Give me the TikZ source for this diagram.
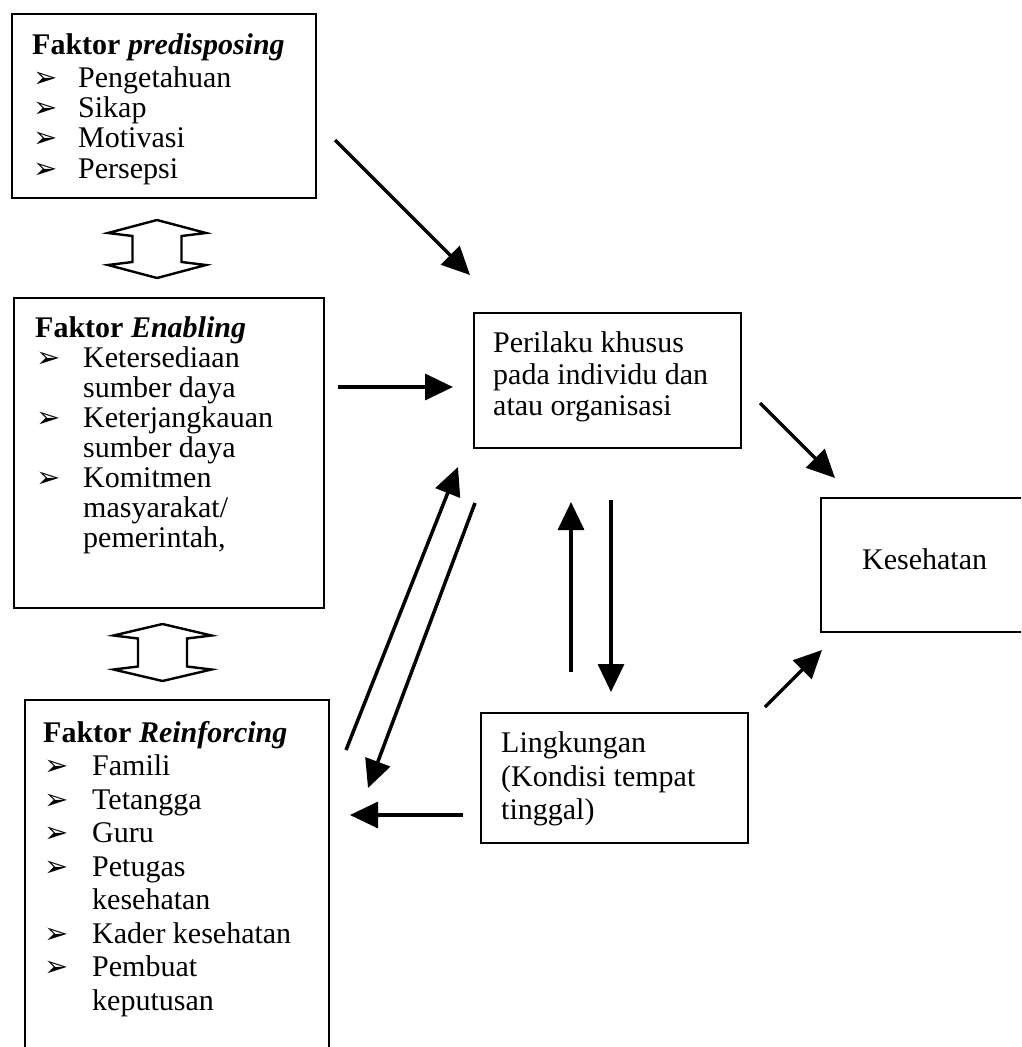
\documentclass[tikz,border=0pt]{standalone}
\usepackage{fontspec}
\setmainfont{Liberation Serif}
\newfontfamily\dingfont{DejaVu Sans}
\usetikzlibrary{arrows.meta}

% list helpers: #1 = indent of the item text (pt), #2 = text
\newcommand\arrowbullet{{\dingfont\fontsize{29}{29}\selectfont ➢}}
\newcommand\pointitem[2]{\makebox[#1pt][l]{\kern1pt\arrowbullet}#2}
\newcommand\contitem[2]{\hspace*{#1pt}#2}

\tikzset{
  box/.style={draw, line width=2.4pt, rectangle, inner sep=0pt, anchor=north west},
  txt/.style={anchor=base west, inner sep=0pt, font=\fontsize{30}{31}\selectfont},
  arr/.style={line width=3.5pt, -{Triangle[length=28pt,width=26pt]}},
  updown/.pic={
    \draw[line width=2.4pt, line join=miter]
      (0,-\tikzpictip) -- (49,-\tikzpicwing) -- (24.5,-\tikzpicwing+3) -- (24.5,\tikzpicwing-3)
      -- (49,\tikzpicwing) -- (0,\tikzpictip) -- (-49,\tikzpicwing) -- (-24.5,\tikzpicwing-3)
      -- (-24.5,-\tikzpicwing+3) -- (-49,-\tikzpicwing) -- cycle;
  }
}
\def\tikzpictip{29}
\def\tikzpicwing{16}

\begin{document}
\begin{tikzpicture}[x=1pt,y=-1pt]
\useasboundingbox (0,0) rectangle (1021,1047);
\clip (0,0) rectangle (1021,1047);
\fill[white] (0,0) rectangle (1021,1047);

% ---- boxes ----
\node[box, minimum width=304pt, minimum height=184pt] (P) at (11,13) {};
\node[box, minimum width=310pt, minimum height=310pt] (E) at (13,297) {};
\node[box, minimum width=304pt, minimum height=380pt] (R) at (24,699) {};
\node[box, minimum width=267pt, minimum height=135pt] (B) at (473,312) {};
\node[box, minimum width=230pt, minimum height=134pt] (K) at (820,497) {};
\node[box, minimum width=267pt, minimum height=130pt] (L) at (480,712) {};

% ---- predisposing ----
\node[txt] (p0) at (32,54) {\textbf{Faktor \textit{predisposing}}};
\foreach \ln [count=\i from 1] in {
  {\pointitem{46}{Pengetahuan}},
  {\pointitem{46}{Sikap}},
  {\pointitem{46}{Motivasi}},
  {\pointitem{46}{Persepsi}}}
  \node[txt] (p\i) at (32,{57+30.3*\i}) {\ln};

% ---- enabling ----
\node[txt] (e0) at (35,337) {\textbf{Faktor \textit{Enabling}}};
\foreach \ln [count=\i from 1] in {
  {\pointitem{48}{Ketersediaan}},
  {\contitem{48}{sumber daya}},
  {\pointitem{48}{Keterjangkauan}},
  {\contitem{48}{sumber daya}},
  {\pointitem{48}{Komitmen}},
  {\contitem{48}{masyarakat/}},
  {\contitem{48}{pemerintah,}}}
  \node[txt] (e\i) at (35,{337+30*\i}) {\ln};

% ---- reinforcing ----
\node[txt] (r0) at (43,742) {\textbf{Faktor \textit{Reinforcing}}};
\foreach \ln [count=\i from 1] in {
  {\pointitem{49}{Famili}},
  {\pointitem{49}{Tetangga}},
  {\pointitem{49}{Guru}},
  {\pointitem{49}{Petugas}},
  {\contitem{49}{kesehatan}},
  {\pointitem{49}{Kader kesehatan}},
  {\pointitem{49}{Pembuat}},
  {\contitem{49}{keputusan}}}
  \node[txt] (r\i) at (43,{742+33.5*\i}) {\ln};

% ---- behaviour, health, environment ----
\node[txt] (b0) at (493,352) {Perilaku khusus};
\node[txt] (b1) at (493,384) {pada individu dan};
\node[txt] (b2) at (493,415) {atau organisasi};
\node[txt] (k0) at (862,569) {Kesehatan};
\node[txt] (l0) at (501,752) {Lingkungan};
\node[txt] (l1) at (501,786) {(Kondisi tempat};
\node[txt] (l2) at (501,819) {tinggal)};

% ---- two-way links between the factor boxes ----
\pic at (157,249) {updown};
\def\tikzpictip{28.5}\def\tikzpicwing{17}
\pic at (162.5,652.5) {updown};

% ---- arrow end points ----
\coordinate (pA) at (335,140);  \coordinate (pB) at (470,275);
\coordinate (eA) at (338,387);  \coordinate (eB) at (453,387);
\coordinate (rA) at (346,750);  \coordinate (rB) at (458,467);
\coordinate (bR1) at (475,503); \coordinate (bR2) at (368,788);
\coordinate (bL1) at (571,672); \coordinate (bL2) at (571,502);
\coordinate (lB1) at (611,500); \coordinate (lB2) at (611,692);
\coordinate (lR1) at (463,815); \coordinate (lR2) at (350,815);
\coordinate (bK1) at (760,403); \coordinate (bK2) at (835,478);
\coordinate (lK1) at (765,707); \coordinate (lK2) at (822,650);

\draw[arr] (pA) -- (pB);
\draw[arr] (eA) -- (eB);
\draw[arr] (rA) -- (rB);
\draw[arr] (bR1) -- (bR2);
\draw[arr] (bL1) -- (bL2);
\draw[arr] (lB1) -- (lB2);
\draw[arr] (lR1) -- (lR2);
\draw[arr] (bK1) -- (bK2);
\draw[arr] (lK1) -- (lK2);
\end{tikzpicture}
\end{document}
